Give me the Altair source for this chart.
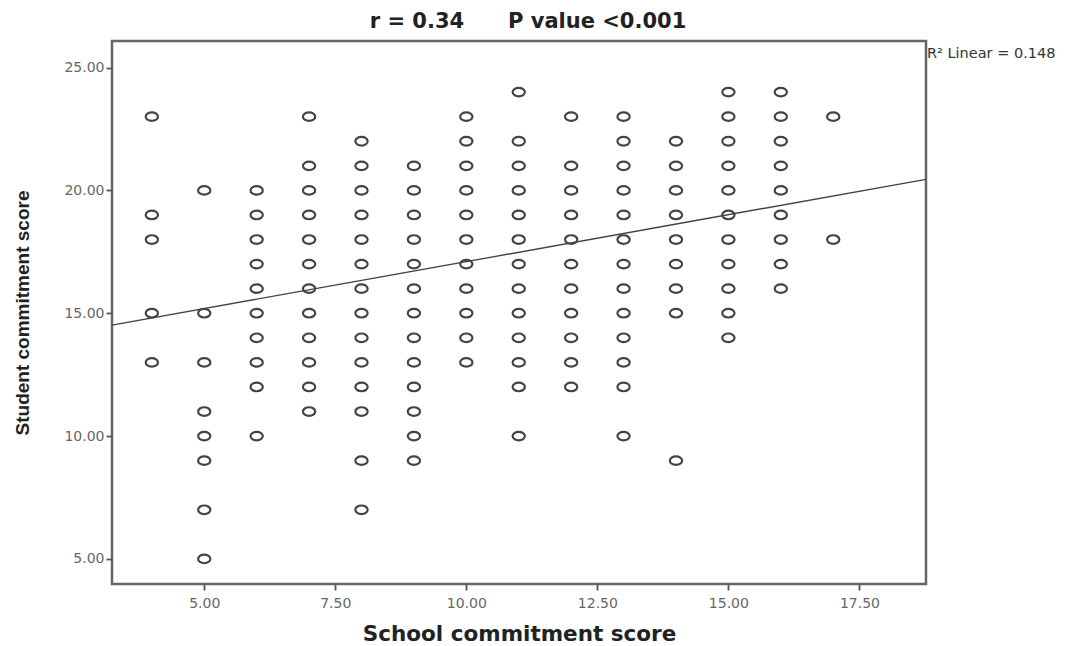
import altair as alt
import pandas as pd

# School commitment score (x) columns and the Student commitment scores (y) seen in each
x_values = [4, 5, 6, 7, 8, 9, 10, 11, 12, 13, 14, 15, 16, 17]
y_by_x = [
    [23, 19, 18, 15, 13],
    [20, 15, 13, 11, 10, 9, 7, 5],
    [20, 19, 18, 17, 16, 15, 14, 13, 12, 10],
    [23, 21, 20, 19, 18, 17, 16, 15, 14, 13, 12, 11],
    [22, 21, 20, 19, 18, 17, 16, 15, 14, 13, 12, 11, 9, 7],
    [21, 20, 19, 18, 17, 16, 15, 14, 13, 12, 11, 10, 9],
    [23, 22, 21, 20, 19, 18, 17, 16, 15, 14, 13],
    [24, 22, 21, 20, 19, 18, 17, 16, 15, 14, 13, 12, 10],
    [23, 21, 20, 19, 18, 17, 16, 15, 14, 13, 12],
    [23, 22, 21, 20, 19, 18, 17, 16, 15, 14, 13, 12, 10],
    [22, 21, 20, 19, 18, 17, 16, 15, 9],
    [24, 23, 22, 21, 20, 19, 18, 17, 16, 15, 14],
    [24, 23, 22, 21, 20, 19, 18, 17, 16],
    [23, 18],
]
# Fitted linear regression (R² = 0.148)
fit_intercept = 13.28
fit_slope = 0.382

x_ticks = [5.0, 7.5, 10.0, 12.5, 15.0, 17.5]
y_ticks = [5.0, 10.0, 15.0, 20.0, 25.0]
x_domain = [3.24, 18.77]
y_domain = [3.98, 26.08]
title_text = "r = 0.34" + "\u00a0" * 6 + "P value <0.001"
r2_text = "R\u00b2 Linear = 0.148"

rows = [{"school": x, "student": y} for x, ys in zip(x_values, y_by_x) for y in ys]
df = pd.DataFrame(rows)
fit_df = pd.DataFrame({"school": x_domain})

W, H = 814, 543

xscale = alt.Scale(domain=x_domain, nice=False, zero=False)
yscale = alt.Scale(domain=y_domain, nice=False, zero=False)

xaxis = alt.Axis(values=x_ticks, format=".2f", grid=False, domain=False,
                 tickColor="#555", tickSize=6, tickWidth=1.8,
                 labelFont="DejaVu Sans", labelFontSize=14, labelColor="#666",
                 labelPadding=6,
                 title="School commitment score", titleFont="DejaVu Sans",
                 titleFontSize=21.5, titleFontWeight="bold", titleColor="#222",
                 titlePadding=13)
yaxis = alt.Axis(values=y_ticks, format=".2f", grid=False, domain=False,
                 tickColor="#555", tickSize=6, tickWidth=1.8,
                 labelFont="DejaVu Sans", labelFontSize=14, labelColor="#666",
                 labelPadding=2,
                 title="Student commitment score", titleFont="Liberation Sans",
                 titleFontSize=19, titleFontWeight="bold", titleColor="#222",
                 titlePadding=31)

ellipse = "M -1 0 A 1 0.7 0 1 0 1 0 A 1 0.7 0 1 0 -1 0 Z"

points = alt.Chart(df).mark_point(
    shape=ellipse, size=150, filled=False, strokeWidth=2.2, color="#444", opacity=1
).encode(
    x=alt.X("school:Q", scale=xscale, axis=xaxis),
    y=alt.Y("student:Q", scale=yscale, axis=yaxis),
)

fit = alt.Chart(fit_df).transform_calculate(
    student=f"{fit_intercept} + {fit_slope} * datum.school"
).mark_line(color="#444", strokeWidth=1.4).encode(
    x=alt.X("school:Q", scale=xscale),
    y=alt.Y("student:Q", scale=yscale),
)

label = alt.Chart(pd.DataFrame({"t": [r2_text]})).mark_text(
    align="left", baseline="middle", font="DejaVu Sans", fontSize=14.5, color="#333"
).encode(text="t:N", x=alt.value(W + 1), y=alt.value(13))

chart = alt.layer(points, fit, label).properties(
    width=W, height=H,
    title=alt.TitleParams(title_text, font="DejaVu Sans", fontSize=21,
                          fontWeight="bold", color="#222", offset=9,
                          anchor="middle", dx=9),
    autosize=alt.AutoSizeParams(type="none"),
    padding={"left": 104, "top": 33, "right": 142, "bottom": 62},
).configure(background="white").configure_view(stroke="#666", strokeWidth=2.5)

chart.save("out.html", embed_options={"renderer": "svg", "actions": False})
